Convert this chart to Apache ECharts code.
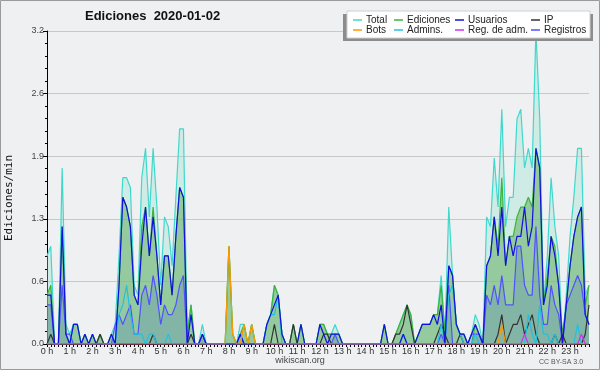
<!DOCTYPE html>
<html><head><meta charset="utf-8">
<script src="https://cdn.jsdelivr.net/npm/echarts@6/dist/echarts.min.js"></script>
<style>html,body{margin:0;padding:0;background:#eff0f1}#c{width:600px;height:370px}</style>
</head><body><div id="c"></div>
<script>
// time categories (10-minute steps)
const times = [];
for (let h = 0; h < 24; h++) for (let m = 0; m < 60; m += 10) times.push(String(h).padStart(2,'0') + ':' + String(m).padStart(2,'0'));
const hourLabels = ["0 h","1 h","2 h","3 h","4 h","5 h","6 h","7 h","8 h","9 h","10 h","11 h","12 h","13 h","14 h","15 h","16 h","17 h","18 h","19 h","20 h","21 h","22 h","23 h"];
const yTicks = [0, 0.64, 1.28, 1.92, 2.56, 3.2];

// values in edits/min, one row per hour (6 x 10 min)
const total = [
 0.9,1.0,0,0,1.8,0.2,  0.1,0.2,0.2,0,0.1,0,  0.1,0,0.1,0,0,0.1,
 0.2,0.9,1.7,1.7,1.6,0.6,  0.5,1.7,2.0,1.3,2.0,1.4,  0.6,1.3,1.2,0.8,1.5,2.2,
 2.2,0.1,0.4,0,0,0.2,  0,0,0,0,0,0,  1.0,0.1,0,0.2,0.2,0,
 0.2,0,0,0,0.2,0.3,  0.6,0.5,0.1,0,0,0.2,  0,0.2,0,0,0,0,
 0.2,0.2,0.1,0.1,0.2,0.1,  0,0,0,0,0,0,  0,0,0,0,0,0.2,
 0,0,0.1,0.2,0.3,0.4,  0.3,0,0.1,0.2,0.2,0.2,  0.3,0.3,0.7,0.1,1.4,0.7,
 0.2,0.1,0.1,0,0.1,0.3,  0.2,0,1.3,1.2,1.9,1.4,  2.4,1.2,1.5,1.5,2.3,2.4,
 1.8,2.0,1.8,3.2,2.3,0.4,  0.9,1.7,1.2,0.9,0,0.5,  1.1,1.5,2.0,2.0,0.5,0.6];
const ediciones = [
 0.5,0.6,0,0,1.2,0.1,  0,0.2,0.2,0,0.1,0,  0.1,0,0.1,0,0,0.1,
 0,0.6,1.5,1.4,1.2,0.5,  0.4,1.2,1.4,0.9,1.4,0.9,  0.4,0.9,0.9,0.5,1.1,1.6,
 1.5,0.1,0.4,0,0,0.1,  0,0,0,0,0,0,  1.0,0.1,0,0.1,0.2,0,
 0.2,0,0,0,0.2,0.3,  0.6,0.5,0.1,0,0,0.2,  0,0.2,0,0,0,0,
 0.2,0.2,0.1,0.1,0.1,0.1,  0,0,0,0,0,0,  0,0,0,0,0,0.2,
 0,0,0.1,0.2,0.3,0.4,  0.3,0,0.1,0.2,0.2,0.2,  0.3,0.3,0.6,0.1,0.8,0.7,
 0.2,0.1,0.1,0,0,0.2,  0.1,0,0.8,0.9,1.3,1.0,  1.7,0.8,1.1,1.1,1.3,1.4,
 1.4,1.5,1.4,2.0,1.8,0.4,  0.7,1.1,1.0,0.6,0.1,0.4,  0.8,1.1,1.3,1.4,0.4,0.6];
const usuarios = [
 0.5,0.5,0,0,1.2,0.1,  0,0.2,0.2,0,0.1,0,  0.1,0,0,0,0,0.1,
 0,0.6,1.5,1.4,1.2,0.5,  0.4,1.0,1.4,0.9,1.3,0.9,  0.4,0.9,0.9,0.5,1.1,1.6,
 1.5,0,0.3,0,0,0.1,  0,0,0,0,0,0,  0,0,0,0.1,0,0,
 0,0,0,0,0.2,0.3,  0.4,0.5,0.1,0,0,0,  0,0.2,0,0,0,0,
 0.2,0.1,0,0.1,0.1,0.1,  0,0,0,0,0,0,  0,0,0,0,0,0.2,
 0,0,0,0,0.1,0,  0,0,0.1,0.2,0.2,0.2,  0.3,0.2,0.4,0,0.8,0.7,
 0.2,0.1,0.1,0,0.1,0.2,  0.1,0,0.8,0.9,1.3,0.9,  1.4,0.8,1.1,0.9,1.1,1.1,
 1.4,1.0,1.2,2.0,1.8,0.4,  0.6,1.1,0.9,0.6,0,0.4,  0.8,1.1,1.3,1.4,0.3,0.2];
const ip = [
 0,0.1,0,0,0,0,  0,0,0,0,0,0,  0,0,0.1,0,0,0,
 0,0,0,0,0,0,  0,0,0,0,0.1,0,  0,0,0,0,0,0,
 0,0,0.1,0,0,0,  0,0,0,0,0,0,  0,0,0,0,0,0,
 0,0,0,0,0,0,  0.2,0,0,0,0,0.2,  0,0,0,0,0,0,
 0,0.1,0.1,0,0,0,  0,0,0,0,0,0,  0,0,0,0,0,0,
 0,0,0.1,0.1,0.2,0.4,  0.2,0,0,0,0,0,  0,0.1,0.2,0.1,0,0,
 0,0.1,0,0,0,0,  0,0,0,0,0,0.1,  0.3,0,0.1,0.2,0.2,0.3,
 0.1,0.2,0.3,0.1,0,0,  0,0,0.1,0,0.1,0,  0,0,0,0,0.1,0.4];
const bots = [
 0,0,0,0,0,0,  0,0,0,0,0,0,  0,0,0,0,0,0,
 0,0,0,0,0,0,  0,0,0,0,0,0,  0,0,0,0,0,0,
 0,0,0,0,0,0,  0,0,0,0,0,0,  1.0,0.1,0,0,0.2,0,
 0.2,0,0,0,0,0,  0,0,0,0,0,0,  0,0,0,0,0,0,
 0,0,0,0,0,0,  0,0,0,0,0,0,  0,0,0,0,0,0,
 0,0,0,0,0,0,  0,0,0,0,0,0,  0,0,0,0,0,0,
 0,0,0,0,0,0,  0,0,0,0,0,0,  0.2,0,0,0,0,0,
 0,0,0,0,0,0,  0,0,0,0,0,0,  0,0,0,0,0,0];
const admins = [
 0,0,0,0,0,0,  0,0.2,0.2,0,0,0,  0,0,0,0,0,0,
 0,0.3,0.4,0.6,0.3,0.1,  0.1,0.1,0,0.1,0.1,0,  0,0,0.1,0,0,0,
 0,0,0,0,0,0,  0,0,0,0,0,0,  0,0,0,0,0,0,
 0,0,0,0,0.2,0.3,  0.3,0.5,0,0,0,0,  0,0,0,0,0,0,
 0,0,0,0,0,0,  0,0,0,0,0,0,  0,0,0,0,0,0,
 0,0,0,0,0.1,0,  0,0,0,0,0,0,  0,0,0.2,0,0.5,0.6,
 0.2,0.1,0,0,0,0.1,  0,0,0,0,0,0,  0,0,0,0,0,0,
 0,0.3,0.1,0,0.4,0.1,  0.1,0,0.1,0,0,0,  0,0,0.2,0,0,0];
const regAdm = [
 0,0,0,0,0,0,  0,0,0,0,0,0,  0,0,0,0,0,0,
 0,0,0,0,0,0,  0,0,0,0,0,0,  0,0,0,0,0,0,
 0,0,0,0,0,0,  0,0,0,0,0,0,  0,0,0,0,0,0,
 0,0,0,0,0,0,  0,0,0,0,0,0,  0,0,0,0,0,0,
 0,0,0,0,0,0,  0,0,0,0,0,0,  0,0,0,0,0,0,
 0,0,0,0,0,0,  0,0,0,0,0,0,  0,0,0,0,0,0,
 0,0,0,0,0,0,  0,0,0,0,0,0,  0,0,0,0,0,0,
 0.1,0,0,0,0,0,  0,0,0,0,0,0,  0,0,0,0.1,0,0];
const registros = [
 0.4,0.4,0,0,0.6,0.1,  0.1,0,0,0,0,0,  0,0,0,0,0,0,
 0.2,0.3,0.2,0.3,0.4,0.1,  0.1,0.5,0.6,0.4,0.7,0.5,  0.2,0.4,0.3,0.3,0.4,0.6,
 0.7,0,0,0,0,0.1,  0,0,0,0,0,0,  0,0,0,0.1,0,0,
 0,0,0,0,0,0,  0,0,0,0,0,0,  0,0,0,0,0,0,
 0,0,0,0,0.1,0,  0,0,0,0,0,0,  0,0,0,0,0,0,
 0,0,0,0,0,0,  0,0,0,0,0,0,  0,0,0.1,0,0.6,0,
 0,0,0,0,0.1,0.1,  0.1,0,0.5,0.4,0.6,0.4,  0.7,0.4,0.4,0.4,1.0,1.0,
 0.6,0.5,0.5,1.2,0.5,0.2,  0.2,0.6,0.4,0.3,0,0.4,  0.5,0.6,0.7,0.6,0.3,0.2];

const chart = echarts.init(document.getElementById('c'));
const F = 'Liberation Sans';
function line(name, data, color, z, area, w) {
  const s = { name, type: 'line', data, color, showSymbol: false, symbol: 'none', z,
    lineStyle: { color, width: w || 1.2 }, animation: false };
  if (area) s.areaStyle = { color: area, opacity: 1 };
  return s;
}
const legendBase = { orient: 'vertical', top: 15, itemWidth: 9, itemHeight: 1.5, itemGap: 0, icon: 'rect',
  selectedMode: false, z: 12, padding: 0,
  textStyle: { fontFamily: F, fontSize: 10, lineHeight: 10, color: '#222', padding: [0,0,0,-1] } };
chart.setOption({
  backgroundColor: '#eff0f1',
  animation: false,
  title: { text: 'Ediciones  2020-01-02', left: 85, top: 10, padding: 0,
    textStyle: { fontFamily: F, fontSize: 13, fontWeight: 'bold', color: '#111' } },
  grid: { left: 47, right: 11, top: 31, bottom: 26, show: true, backgroundColor: '#eff0f1', borderWidth: 0 },
  legend: [
    Object.assign({}, legendBase, { left: 353, data: ['Total', 'Bots'] }),
    Object.assign({}, legendBase, { left: 394, data: ['Ediciones', 'Admins.'] }),
    Object.assign({}, legendBase, { left: 455, data: ['Usuarios', 'Reg. de adm.'] }),
    Object.assign({}, legendBase, { left: 531, data: ['IP', 'Registros'] })
  ],
  xAxis: {
    type: 'category', data: times, boundaryGap: false,
    axisLine: { lineStyle: { color: '#000', width: 1 } },
    axisTick: { show: true, interval: 0, length: 3, lineStyle: { color: '#000' } },
    axisLabel: { interval: (i) => i % 6 === 0, formatter: (v, i) => hourLabels[Math.floor(i / 6)],
      fontFamily: F, fontSize: 9, color: '#333', margin: 3 },
    splitLine: { show: false }
  },
  yAxis: {
    type: 'value', min: yTicks[0], max: yTicks[yTicks.length - 1], interval: yTicks[1],
    axisLine: { show: true, lineStyle: { color: '#000' } },
    axisTick: { show: true, length: 4, lineStyle: { color: '#000' } },
    minorTick: { show: true, splitNumber: 5, length: 2, lineStyle: { color: '#000' } },
    splitLine: { lineStyle: { color: '#c8c8c8', width: 1 } },
    axisLabel: { formatter: (v) => v.toFixed(1), fontFamily: F, fontSize: 9, color: '#444', margin: 3 }
  },
  graphic: { elements: [
    { type: 'rect', shape: { x: 0.5, y: 0.5, width: 599, height: 369 }, style: { fill: 'none', stroke: '#9a9a9a', lineWidth: 1 }, z: 50 },
    { type: 'rect', shape: { x: 343, y: 14, width: 250, height: 27 }, style: { fill: '#8c8c8c' }, z: 8 },
    { type: 'rect', shape: { x: 347, y: 11, width: 243, height: 27 }, style: { fill: '#ffffff', stroke: '#d0d0d0', lineWidth: 1 }, z: 9 },
    { type: 'text', x: 9, y: 198, rotation: Math.PI / 2, style: { text: 'Ediciones/min', fontFamily: 'DejaVu Sans Mono', fontSize: 11, fill: '#111', textAlign: 'center', textVerticalAlign: 'middle' }, z: 20 },
    { type: 'text', x: 300, y: 361, style: { text: 'wikiscan.org', fontFamily: F, fontSize: 9, fill: '#444', textAlign: 'center', textVerticalAlign: 'middle' }, z: 20 },
    { type: 'text', x: 561, y: 362, style: { text: 'CC BY-SA 3.0', fontFamily: F, fontSize: 7, fill: '#555', textAlign: 'center', textVerticalAlign: 'middle' }, z: 20 }
  ] },
  series: [
    line('Total', total, '#40d8cc', 2, 'rgba(150,225,205,0.35)'),
    line('Ediciones', ediciones, '#3cb43c', 3, 'rgba(110,180,110,0.6)'),
    line('Registros', registros, '#5050ff', 4, 'rgba(60,100,200,0.2)'),
    line('IP', ip, '#333333', 5),
    line('Admins.', admins, '#22c0e0', 6),
    line('Usuarios', usuarios, '#1010e0', 7),
    line('Bots', bots, '#ff9900', 7),
    line('Reg. de adm.', regAdm, '#cc33ee', 7)
  ]
});
</script></body></html>
